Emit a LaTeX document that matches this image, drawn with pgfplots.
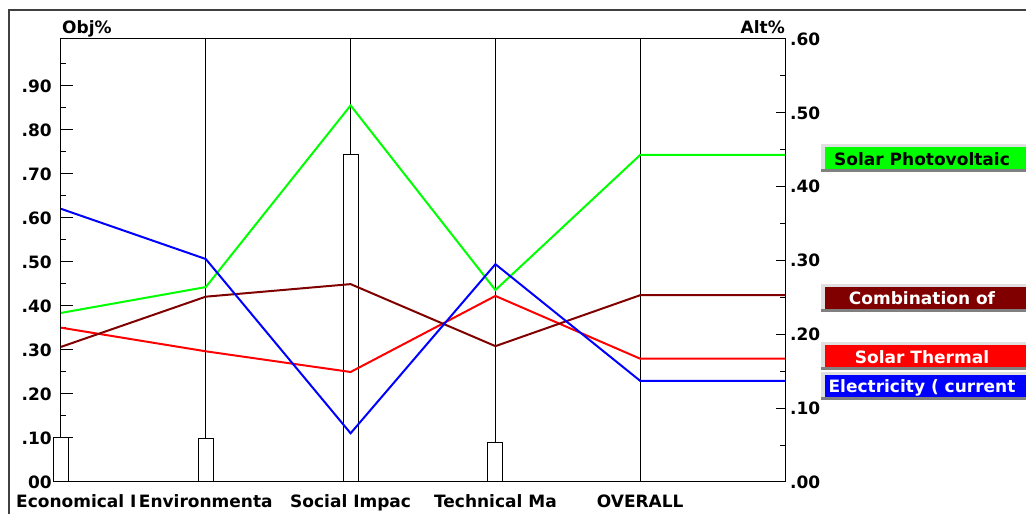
\documentclass[border=0pt]{standalone}
\usepackage{fontspec}
\setmainfont{DejaVu Sans}
\usepackage{pgfplots}
\pgfplotsset{compat=1.18}
\definecolor{cgreen}{RGB}{0,255,0}
\definecolor{cbrown}{RGB}{128,0,0}
\definecolor{cred}{RGB}{255,0,0}
\definecolor{cblue}{RGB}{0,0,255}
\newcommand{\lf}{\bfseries\fontsize{17}{20}\selectfont}
\newcommand{\legbox}[4]{%
  \fill[black!12] (821,{514-#1-14}) rectangle (1040,{514-#1+14});
  \fill[black!50] (821,{514-#1-14}) rectangle (1040,{514-#1-11});
  \fill[#2] (825,{514-#1-11}) rectangle (1040,{514-#1+11});
  \node[font=\lf, text=#3, inner sep=0pt, anchor=base] at (922,{514-#1-7}) {#4};
}
\begin{document}
\begin{tikzpicture}[x=1pt,y=1pt]
\path[use as bounding box] (0,0) rectangle (1026,514);
\clip (0,0) rectangle (1026,514);
\draw[line width=2pt, black!75] (9,-20) -- (9,504) -- (1050,504);

\begin{axis}[
  at={(61pt,32pt)}, anchor=south west,
  scale only axis, width=724pt, height=443pt,
  xmin=0, xmax=5, ymin=0, ymax=1.0068,
  axis line style={line width=1pt},
  xtick={0,1,2,3,4},
  xticklabels={,Environmenta,Social Impac,Technical Ma,OVERALL},
  xmajorgrids, grid style={black, line width=1pt},
  xtick style={draw=none},
  xticklabel style={anchor=base, yshift=-26pt, inner sep=0pt},
  ytick={0,0.1,0.2,0.3,0.4,0.5,0.6,0.7,0.8,0.9},
  yticklabels={00,.10,.20,.30,.40,.50,.60,.70,.80,.90},
  minor ytick={0.05,0.15,0.25,0.35,0.45,0.55,0.65,0.75,0.85,0.95},
  ytick pos=left, tick align=inside,
  major tick length=12pt, minor tick length=5pt,
  ytick style={line width=1pt, black},
  yticklabel style={anchor=east, inner sep=0pt, xshift=-9pt},
  ticklabel style={font=\lf},
  /pgf/number format/assume math mode=true,
  clip=false,
]
\addplot[ybar, bar width=15pt, fill=white, draw=black, line width=1pt]
  coordinates {(0,0.100) (1,0.098) (2,0.745) (3,0.089)};
\end{axis}

\begin{axis}[
  at={(61pt,32pt)}, anchor=south west,
  scale only axis, width=724pt, height=443pt,
  xmin=0, xmax=5, ymin=0, ymax=0.6,
  axis y line*=right, axis x line=none,
  axis line style={line width=1pt},
  ytick={0,0.1,0.2,0.3,0.4,0.5,0.6},
  yticklabels={.00,.10,.20,.30,.40,.50,.60},
  minor ytick={0.05,0.15,0.25,0.35,0.45,0.55},
  tick align=inside, major tick length=9pt, minor tick length=5pt,
  ytick style={line width=1pt, black},
  yticklabel style={anchor=west, inner sep=0pt, xshift=5pt, font=\lf},
  /pgf/number format/assume math mode=true,
  clip=false,
]
\addplot[cgreen, line width=2pt] coordinates {(0,0.229) (1,0.264) (2,0.510) (3,0.260) (4,0.443) (5,0.443)};
\addplot[cred, line width=2pt] coordinates {(0,0.209) (1,0.177) (2,0.149) (3,0.252) (4,0.167) (5,0.167)};
\addplot[cbrown, line width=2pt] coordinates {(0,0.183) (1,0.251) (2,0.268) (3,0.184) (4,0.253) (5,0.253)};
\addplot[cblue, line width=2pt] coordinates {(0,0.370) (1,0.302) (2,0.066) (3,0.295) (4,0.137) (5,0.137)};
\end{axis}

\node[font=\lf, anchor=base west, inner sep=0pt] at (62,480) {Obj\%};
\node[font=\lf, anchor=base east, inner sep=0pt] at (785,480) {Alt\%};
\node[font=\lf, anchor=base west, inner sep=0pt] at (16,6) {Economical I};

\legbox{158.5}{cgreen}{black}{Solar Photovoltaic}
\legbox{298}{cbrown}{white}{Combination of}
\legbox{356.5}{cred}{white}{Solar Thermal}
\legbox{386}{cblue}{white}{Electricity ( current}
\end{tikzpicture}
\end{document}
